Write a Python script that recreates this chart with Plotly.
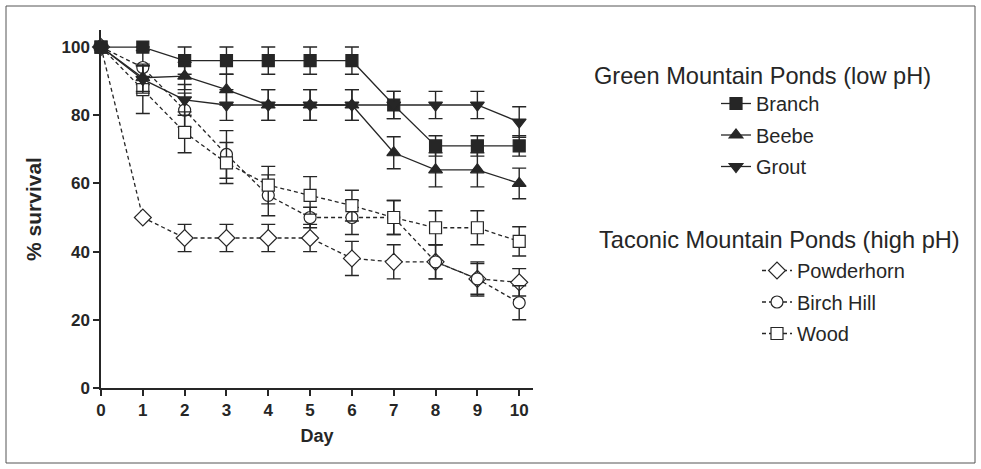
import plotly.graph_objects as go

days = list(range(11))
x_ticks = list(range(11))
y_ticks = [0, 20, 40, 60, 80, 100]

branch = [100, 100, 96, 96, 96, 96, 96, 83, 71, 71, 71]
branch_err = [0, 0, 4, 4, 4, 4, 4, 4, 3, 3, 3]
beebe = [100, 91, 91.5, 87.5, 83, 83, 83, 69, 64, 64, 60]
beebe_err = [0, 4, 4, 4.5, 4.5, 4.5, 4.5, 4.7, 5, 5, 4.5]
grout = [100, 90.5, 84.5, 83, 83, 83, 83, 83, 83, 83, 78]
grout_err = [0, 4, 4.5, 4.5, 4.5, 4.5, 4.5, 4, 4, 4, 4.5]

powderhorn = [100, 50, 44, 44, 44, 44, 38, 37, 37, 32, 31]
powderhorn_err = [0, 0, 4, 4, 4, 4, 5, 5, 5, 4.5, 4]
birch_hill = [100, 94, 81.5, 68.5, 56.5, 50, 50, 50, 37, 32, 25]
birch_hill_err = [0, 5, 5, 7, 6, 3, 5, 5, 5, 5, 5]
wood = [100, 87.5, 75, 66, 59.5, 56.5, 53.5, 50, 47, 47, 43]
wood_err = [0, 7, 6, 6, 5.5, 5.5, 4.5, 5, 5, 5, 4.3]

W, H = 981, 469
ML, MR, MT, MB = 101, 448, 30, 81
INK = "#262626"
FONT = "Liberation Sans, Arial, sans-serif"

fig = go.Figure()

def add(name, ys, errs, symbol, dash, legend, size, filled):
    fig.add_trace(go.Scatter(
        x=days, y=ys, name=name, mode="lines+markers",
        line=dict(color=INK, width=1.3, dash=dash),
        marker=dict(symbol=symbol, size=size,
                    color=INK if filled else "white",
                    line=dict(color=INK, width=1.2)),
        error_y=dict(type="data", array=errs, visible=True,
                     color=INK, thickness=1.4, width=7),
        legend=legend, legendgroup=name, cliponaxis=False,
    ))

# Taconic (drawn first, underneath)
add("Powderhorn", powderhorn, powderhorn_err, "diamond", "4px,3px", "legend2", 13, False)
add("Birch Hill", birch_hill, birch_hill_err, "circle", "4px,3px", "legend2", 12, False)
add("Wood", wood, wood_err, "square", "4px,3px", "legend2", 12, False)
# Green
add("Branch", branch, branch_err, "square", "solid", "legend", 12, True)
add("Beebe", beebe, beebe_err, "triangle-up", "solid", "legend", 12, True)
add("Grout", grout, grout_err, "triangle-down", "solid", "legend", 12, True)

axis_common = dict(showline=True, linecolor=INK, linewidth=1.5, ticks="outside",
                   ticklen=6, tickwidth=1.5, tickcolor=INK, showgrid=False,
                   zeroline=False, tickfont=dict(family=FONT, size=17, color=INK, weight="bold"))

fig.update_xaxes(range=[0, 10.33], tickvals=x_ticks, ticktext=[str(v) for v in x_ticks],
                 title=dict(text="<b>Day</b>", font=dict(family=FONT, size=18, color=INK), standoff=10),
                 **axis_common)
fig.update_yaxes(range=[0, 105], tickvals=y_ticks, ticktext=[str(v) for v in y_ticks],
                 title=dict(text="<b>% survival</b>", font=dict(family=FONT, size=21, color=INK), standoff=14),
                 **axis_common)

legend_common = dict(xref="container", yref="container", xanchor="left", yanchor="top",
                     traceorder="grouped", tracegroupgap=2.5, bgcolor="rgba(0,0,0,0)",
                     font=dict(family=FONT, size=20, color=INK), itemwidth=30)

fig.update_layout(
    width=W, height=H,
    margin=dict(l=ML, r=MR, t=MT, b=MB),
    paper_bgcolor="white", plot_bgcolor="white",
    font=dict(family=FONT, color=INK),
    showlegend=True,
    legend=dict(x=716 / W, y=1 - 84 / H, **legend_common),
    legend2=dict(x=757 / W, y=1 - 251 / H, **legend_common),
)

pw, ph = W - ML - MR, H - MT - MB
fig.add_annotation(xref="paper", yref="paper", x=(592 - ML) / pw,
                   y=(H - MB - 76) / ph, xanchor="left", yanchor="middle",
                   text="Green Mountain Ponds (low pH)", showarrow=False,
                   font=dict(family=FONT, size=23.6, color=INK))
fig.add_annotation(xref="paper", yref="paper", x=(597 - ML) / pw,
                   y=(H - MB - 240) / ph, xanchor="left", yanchor="middle",
                   text="Taconic Mountain Ponds (high pH)", showarrow=False,
                   font=dict(family=FONT, size=23.6, color=INK))

fig.add_shape(type="rect", xref="paper", yref="paper",
              x0=(6 - ML) / pw, x1=(975 - ML) / pw,
              y0=(H - MB - 463) / ph, y1=(H - MB - 6) / ph,
              line=dict(color="#555555", width=1), layer="below")

fig.write_html("out.html", config={"displayModeBar": False},
               post_script="document.body.style.margin='0';document.body.style.padding='0';")
